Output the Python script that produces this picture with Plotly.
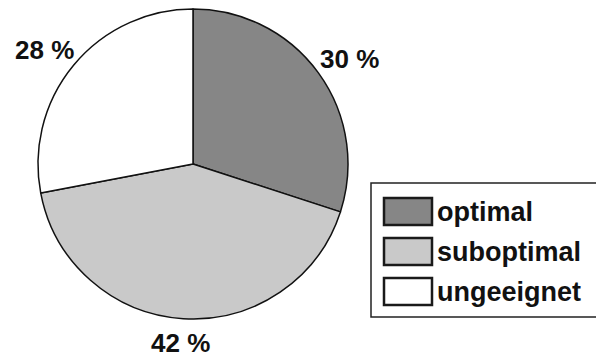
import math
import plotly.graph_objects as go

categories = ["optimal", "suboptimal", "ungeeignet"]
values = [30, 42, 28]
colors = ["#868686", "#c9c9c9", "#ffffff"]

W, H = 596, 359
def px(x):
    return x / W
def py(y):
    return 1 - y / H

FONT = "Liberation Sans"
CX, CY, R = 193, 164, 155

fig = go.Figure()
fig.add_trace(go.Pie(
    labels=categories,
    values=values,
    sort=False,
    direction="clockwise",
    rotation=0,
    marker=dict(colors=colors, line=dict(color="#111111", width=1.5)),
    textinfo="none",
    domain=dict(x=[px(CX - R), px(CX + R)], y=[py(CY + R), py(CY - R)]),
    showlegend=False,
    hoverinfo="skip",
))

annotations = []
# percentage labels outside the pie, placed at each slice's mid-angle
total = sum(values)
cum = 0
for v in values:
    mid = (cum + v / 2) / total * 2 * math.pi
    cum += v
    lx = CX + 1.245 * R * math.sin(mid)
    ly = CY - 1.155 * R * math.cos(mid)
    annotations.append(dict(xref="paper", yref="paper", x=px(lx), y=py(ly),
                            xanchor="center", yanchor="middle", showarrow=False,
                            text=f"<b>{v} %</b>",
                            font=dict(family=FONT, size=26, color="#111111")))

shapes = [
    dict(type="rect", xref="paper", yref="paper",
         x0=px(371), x1=px(603), y0=py(317), y1=py(183),
         line=dict(color="#222222", width=1.5), fillcolor="rgba(0,0,0,0)"),
]
for i, (cat, col) in enumerate(zip(categories, colors)):
    top = 198 + 40 * i
    bot = top + 27
    shapes.append(dict(type="rect", xref="paper", yref="paper",
                       x0=px(384), x1=px(432), y0=py(bot), y1=py(top),
                       line=dict(color="#1a1a1a", width=2.5), fillcolor=col))
    annotations.append(dict(xref="paper", yref="paper", x=px(435), y=py((top + bot) / 2),
                            xanchor="left", yanchor="middle", showarrow=False,
                            text=f"<b>{cat}</b>",
                            font=dict(family=FONT, size=27, color="#111111")))

fig.update_layout(
    width=W, height=H,
    margin=dict(l=0, r=0, t=0, b=0),
    paper_bgcolor="white", plot_bgcolor="white",
    shapes=shapes, annotations=annotations,
)
fig.write_html("out.html")
